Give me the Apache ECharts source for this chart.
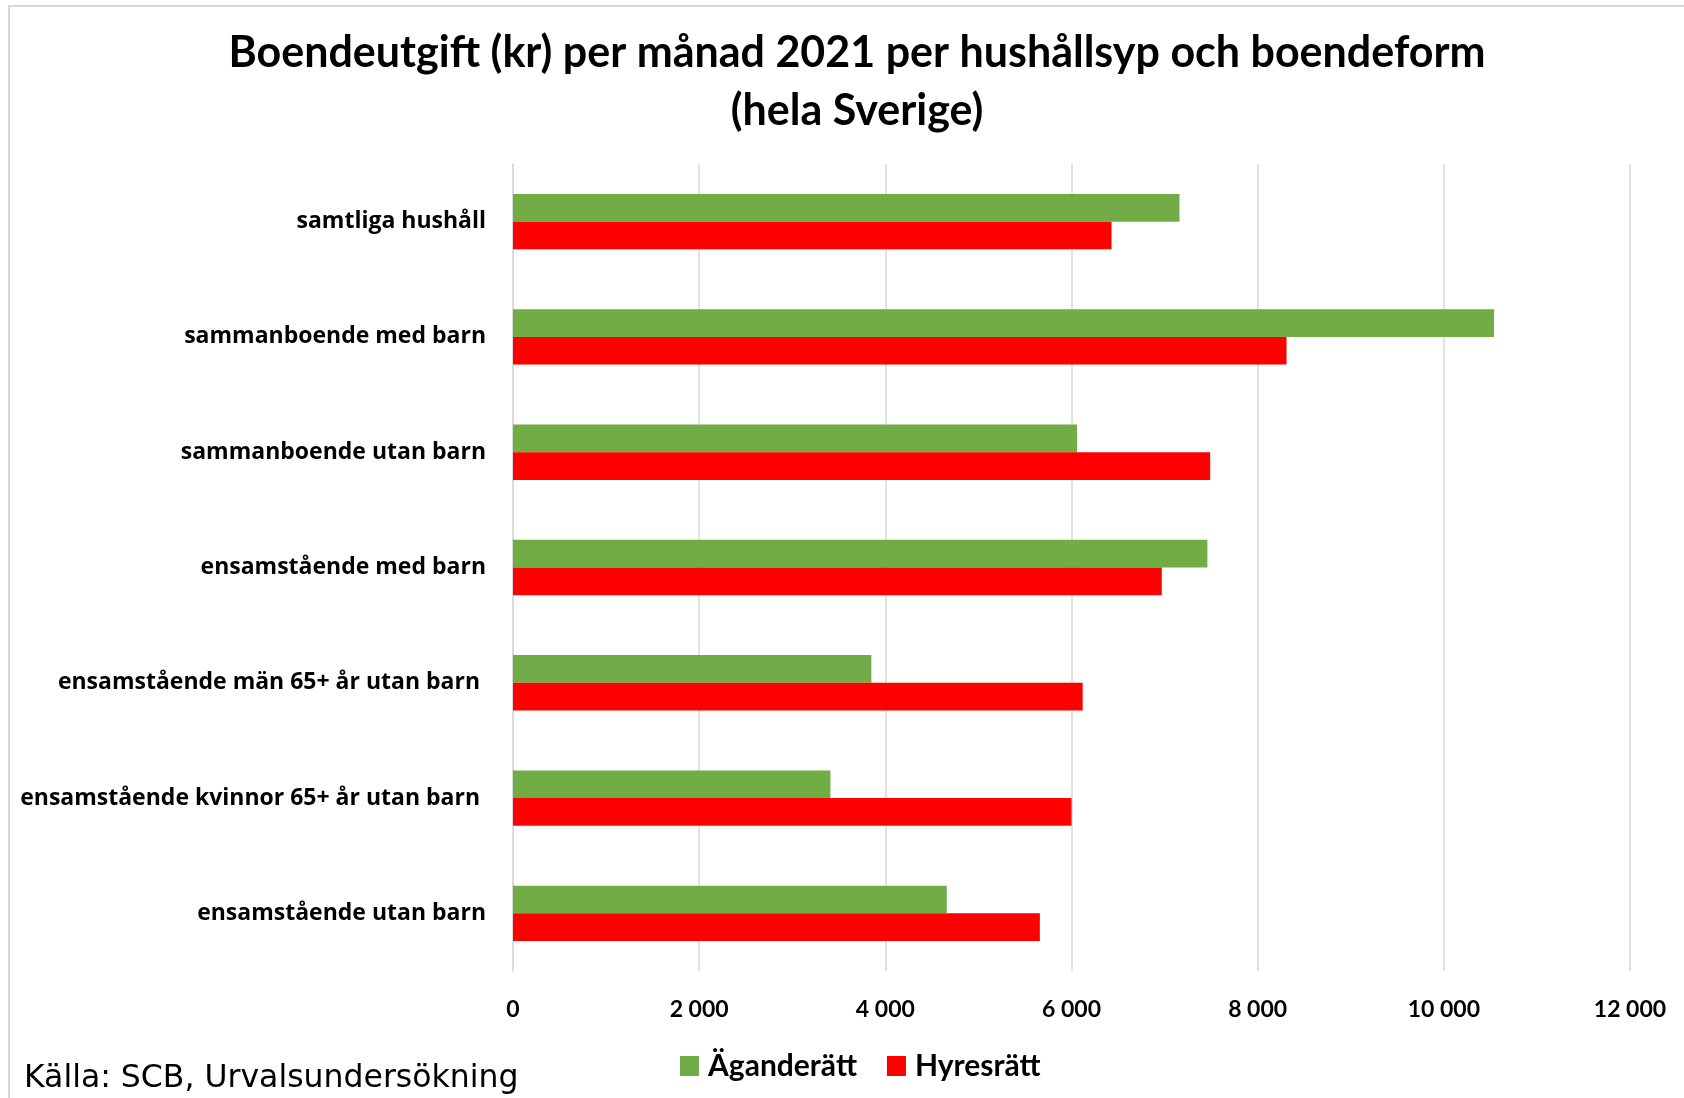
<!DOCTYPE html>
<html>
<head>
<meta charset="utf-8">
<script src="https://cdn.jsdelivr.net/npm/echarts@6/dist/echarts.min.js"></script>
<style>
  html, body { margin: 0; padding: 0; background: #fff; }
  #main { width: 1684px; height: 1098px; }
</style>
</head>
<body>
<div id="main"></div>
<script>
// kategorier (uppifrån och ned)
var kategorier = [
    'samtliga hushåll',
    'sammanboende med barn',
    'sammanboende utan barn',
    'ensamstående med barn',
    'ensamstående män 65+ år utan barn ',
    'ensamstående kvinnor 65+ år utan barn ',
    'ensamstående utan barn'
];
var agande = [7160, 10540, 6060, 7460, 3850, 3410, 4660];
var hyres = [6430, 8310, 7490, 6970, 6120, 6000, 5660];
var xTicks = [0, 2000, 4000, 6000, 8000, 10000, 12000];

var myChart = echarts.init(document.getElementById('main'));

function tusental(v) {
    return String(v).replace(/\B(?=(\d{3})+(?!\d))/g, ' ');
}

var option = {
    backgroundColor: '#fff',
    animation: false,
    title: {
        text: 'Boendeutgift (kr) per månad 2021 per hushållsyp och boendeform\n(hela Sverige)',
        left: 852,
        textAlign: 'center',
        top: 19,
        textStyle: {
            fontFamily: 'Lato',
            fontWeight: 'bold',
            fontSize: 43,
            lineHeight: 58,
            color: '#000'
        }
    },
    legend: {
        data: ['Äganderätt', 'Hyresrätt'],
        icon: 'rect',
        left: 675,
        top: 1046,
        itemWidth: 19,
        itemHeight: 20,
        itemGap: 30,
        textStyle: {
            fontFamily: 'Lato',
            fontWeight: 'bold',
            fontSize: 30,
            padding: [0, 0, 0, 4],
            color: '#000'
        }
    },
    grid: {
        left: 513,
        right: 1684 - 1630,
        top: 164,
        bottom: 1098 - 971,
        containLabel: false
    },
    xAxis: {
        type: 'value',
        min: xTicks[0],
        max: xTicks[xTicks.length - 1],
        interval: 2000,
        axisLine: { show: false },
        axisTick: { show: false },
        splitLine: { lineStyle: { color: '#d9d9d9', width: 1.5 } },
        axisLabel: {
            margin: 27,
            fontFamily: 'Lato',
            fontWeight: 'bold',
            fontSize: 23,
            color: '#000',
            formatter: tusental
        }
    },
    yAxis: {
        type: 'category',
        data: kategorier,
        inverse: true,
        axisLine: { show: true, lineStyle: { color: '#d9d9d9', width: 1.5 } },
        axisTick: { show: false },
        axisLabel: {
            margin: 27,
            padding: [6, 0, 0, 0],
            fontFamily: 'Open Sans',
            fontWeight: 'bold',
            fontSize: 23,
            color: '#000'
        }
    },
    series: [
        {
            name: 'Äganderätt',
            type: 'bar',
            data: agande,
            itemStyle: { color: '#70AD47' },
            barGap: '0%',
            barCategoryGap: '52%'
        },
        {
            name: 'Hyresrätt',
            type: 'bar',
            data: hyres,
            itemStyle: { color: '#FF0000' },
            barGap: '0%',
            barCategoryGap: '52%'
        }
    ],
    graphic: [
        {
            type: 'rect',
            shape: { x: 9, y: 6, width: 1700, height: 1200 },
            style: { fill: 'none', stroke: '#d9d9d9', lineWidth: 2 },
            silent: true
        },
        {
            type: 'text',
            left: 24,
            top: 1063,
            style: {
                text: 'Källa: SCB, Urvalsundersökning',
                fontFamily: 'DejaVu Sans',
                fontSize: 31.5,
                fill: '#000'
            }
        }
    ]
};

myChart.setOption(option);
</script>
</body>
</html>
